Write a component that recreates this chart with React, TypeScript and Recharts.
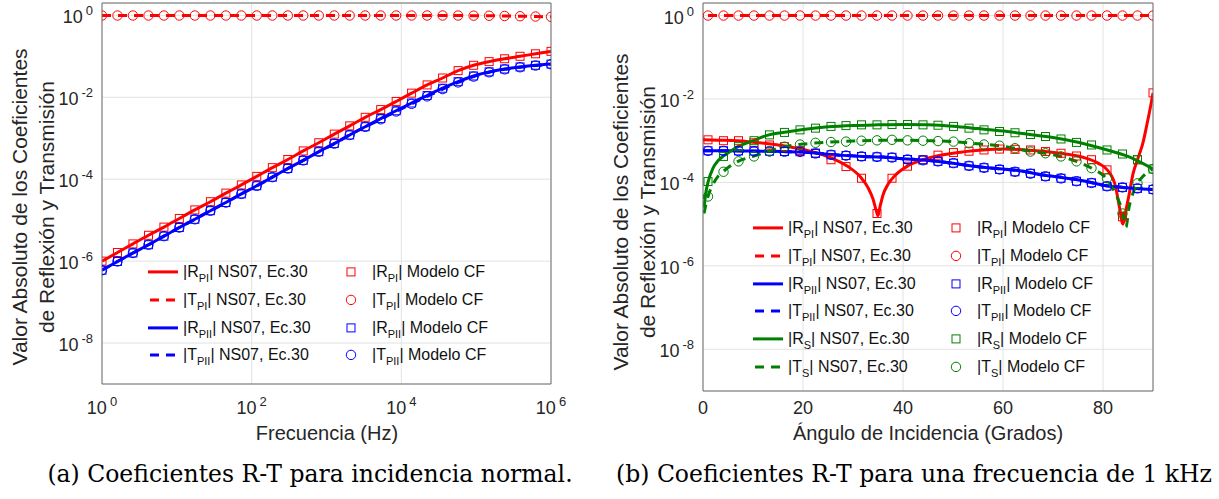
import React from 'react'
import { ComposedChart, Line, XAxis, YAxis, CartesianGrid, Legend } from 'recharts'

const SANS = '"Liberation Sans", Arial, Helvetica, sans-serif'
const SERIF = '"DejaVu Serif", "Liberation Serif", serif'
const TXT = '#262626'
const AXIS = '#6e6e6e'
const GRID = '#e2e2e2'
const RED = '#ff0000'
const BLUE = '#0000ff'
const GREEN = '#008000'

// (a) incidencia normal -- frecuencia (Hz), 30 puntos log
const freqHz = [1, 1.61, 2.59, 4.18, 6.72, 10.8, 17.4, 28.1, 45.2, 72.8, 117, 189, 304, 489, 788, 1270, 2040, 3290, 5300, 8530, 13700, 22100, 35600, 57400, 92400, 149000, 240000, 386000, 621000, 1000000]
const aRPI = [1.0e-6, 1.62e-6, 2.63e-6, 4.27e-6, 6.76e-6, 1.1e-5, 1.78e-5, 2.82e-5, 4.57e-5, 7.24e-5, 1.17e-4, 1.91e-4, 3.02e-4, 4.9e-4, 7.76e-4, 1.26e-3, 2.0e-3, 3.24e-3, 5.0e-3, 7.9e-3, 1.26e-2, 2.0e-2, 2.95e-2, 4.47e-2, 6.03e-2, 7.41e-2, 8.71e-2, 0.1, 0.115, 0.132]
const aTPI = [0.99, 0.99, 0.99, 0.99, 0.99, 0.99, 0.99, 0.99, 0.99, 0.99, 0.99, 0.99, 0.99, 0.99, 0.99, 0.99, 0.99, 0.99, 0.99, 0.99, 0.99, 0.99, 0.99, 0.988, 0.982, 0.975, 0.965, 0.95, 0.935, 0.92]
const aRPII = [6.0e-7, 9.8e-7, 1.58e-6, 2.51e-6, 4.07e-6, 6.6e-6, 1.05e-5, 1.7e-5, 2.69e-5, 4.37e-5, 6.9e-5, 1.12e-4, 1.82e-4, 2.88e-4, 4.68e-4, 7.4e-4, 1.2e-3, 1.91e-3, 3.02e-3, 4.68e-3, 7.24e-3, 1.1e-2, 1.66e-2, 2.4e-2, 3.31e-2, 4.17e-2, 4.9e-2, 5.5e-2, 6.03e-2, 6.46e-2]
const aTPII = [6.0e-7, 9.8e-7, 1.58e-6, 2.51e-6, 4.07e-6, 6.6e-6, 1.05e-5, 1.7e-5, 2.69e-5, 4.37e-5, 6.9e-5, 1.12e-4, 1.82e-4, 2.88e-4, 4.68e-4, 7.4e-4, 1.2e-3, 1.9e-3, 2.9e-3, 4.5e-3, 6.9e-3, 1.05e-2, 1.58e-2, 2.3e-2, 3.2e-2, 4.07e-2, 4.8e-2, 5.4e-2, 5.95e-2, 6.4e-2]

// (b) 1 kHz -- angulo de incidencia (grados)
const angCF = [1, 4.1, 7.1, 10.2, 13.3, 16.3, 19.4, 22.5, 25.6, 28.6, 31.7, 34.8, 37.8, 40.9, 44, 47, 50.1, 53.2, 56.2, 59.3, 62.4, 65.5, 68.5, 71.6, 74.7, 77.7, 80.8, 83.9, 86.9, 90]
const bRPI_CF = [1.05e-3, 1.0e-3, 1.0e-3, 8.9e-4, 7.9e-4, 7.2e-4, 5.8e-4, 5.0e-4, 3.5e-4, 2.4e-4, 1.26e-4, 1.8e-5, 1.26e-4, 2.45e-4, 3.5e-4, 4.5e-4, 5.2e-4, 5.6e-4, 6.0e-4, 6.3e-4, 6.2e-4, 6.0e-4, 5.5e-4, 5.0e-4, 4.3e-4, 3.5e-4, 2.0e-4, 1.5e-5, 3.5e-4, 1.4e-2]
const bTPI_CF = [1, 1, 1, 1, 1, 1, 1, 1, 1, 1, 1, 1, 1, 1, 1, 1, 1, 1, 1, 1, 1, 1, 1, 1, 1, 1, 1, 1, 1, 1]
const bRPII_CF = [5.75e-4, 5.75e-4, 5.7e-4, 5.65e-4, 5.6e-4, 5.5e-4, 5.45e-4, 5.0e-4, 4.6e-4, 4.4e-4, 4.2e-4, 4.1e-4, 4.0e-4, 3.55e-4, 3.45e-4, 3.2e-4, 2.9e-4, 2.5e-4, 2.25e-4, 2.05e-4, 1.8e-4, 1.65e-4, 1.4e-4, 1.26e-4, 1.07e-4, 9.8e-5, 8.1e-5, 7.6e-5, 7.2e-5, 6.8e-5]
const bTPII_CF = [5.7e-4, 5.7e-4, 5.65e-4, 5.6e-4, 5.55e-4, 5.45e-4, 5.4e-4, 4.95e-4, 4.6e-4, 4.4e-4, 4.2e-4, 4.1e-4, 3.95e-4, 3.55e-4, 3.4e-4, 3.2e-4, 2.9e-4, 2.5e-4, 2.25e-4, 2.05e-4, 1.8e-4, 1.62e-4, 1.4e-4, 1.25e-4, 1.07e-4, 9.7e-5, 8.1e-5, 7.6e-5, 7.2e-5, 6.8e-5]
const bRS_CF = [1.05e-4, 4.2e-4, 7.2e-4, 1.0e-3, 1.38e-3, 1.58e-3, 1.82e-3, 2.0e-3, 2.2e-3, 2.3e-3, 2.4e-3, 2.4e-3, 2.45e-3, 2.45e-3, 2.4e-3, 2.35e-3, 2.2e-3, 2.0e-3, 1.82e-3, 1.66e-3, 1.55e-3, 1.41e-3, 1.26e-3, 1.1e-3, 9.1e-4, 7.9e-4, 6.0e-4, 4.8e-4, 3.5e-4, 2.1e-4]
const bTS_CF = [4.6e-5, 1.8e-4, 3.2e-4, 4.2e-4, 5.6e-4, 7.2e-4, 8.1e-4, 8.9e-4, 9.3e-4, 9.5e-4, 1.0e-3, 1.02e-3, 1.05e-3, 1.02e-3, 1.0e-3, 9.8e-4, 9.5e-4, 8.7e-4, 8.1e-4, 7.6e-4, 6.6e-4, 5.5e-4, 5.0e-4, 4.2e-4, 3.2e-4, 2.2e-4, 1.26e-4, 1.8e-5, 9.5e-5, 2.1e-4]

// NS07 curves (denser where they dip)
const angP_NS = [0, 4, 8, 12, 16, 20, 24, 28, 32, 36, 40, 44, 48, 52, 56, 60, 64, 68, 72, 76, 80, 84, 88, 90]
const bRPII_NS = [5.75e-4, 5.75e-4, 5.7e-4, 5.6e-4, 5.5e-4, 5.35e-4, 4.85e-4, 4.45e-4, 4.2e-4, 4.05e-4, 3.7e-4, 3.45e-4, 3.1e-4, 2.65e-4, 2.3e-4, 2.1e-4, 1.85e-4, 1.5e-4, 1.3e-4, 1.1e-4, 8.6e-5, 7.6e-5, 7.0e-5, 6.8e-5]
const angRPI_NS = [0, 3, 7, 10, 14, 18, 22, 26, 29, 31.5, 33, 34, 34.7, 35, 35.4, 36, 37, 38.5, 41, 44, 48, 52, 56, 60, 64, 68, 72, 76, 79, 81, 82.5, 83.3, 84, 84.6, 85.2, 86, 87, 88, 88.8, 89.5, 90]
const bRPI_NS = [1.05e-3, 1.03e-3, 1.0e-3, 9.2e-4, 8.2e-4, 6.9e-4, 5.4e-4, 3.7e-4, 2.4e-4, 1.35e-4, 7.5e-5, 4.0e-5, 2.0e-5, 1.6e-5, 2.6e-5, 5.0e-5, 9.0e-5, 1.5e-4, 2.5e-4, 3.5e-4, 4.6e-4, 5.4e-4, 6.0e-4, 6.3e-4, 6.1e-4, 5.6e-4, 4.9e-4, 4.0e-4, 2.9e-4, 1.9e-4, 8.0e-5, 2.5e-5, 1.0e-5, 2.2e-5, 5.0e-5, 1.6e-4, 3.8e-4, 9.0e-4, 2.5e-3, 6.5e-3, 1.4e-2]
const angRS_NS = [0.2, 0.6, 1, 2, 3, 4, 5.5, 7, 10, 13, 16, 20, 25, 30, 35, 40, 45, 50, 55, 60, 65, 70, 75, 80, 85, 90]
const bRS_NS = [2.5e-5, 6.0e-5, 1.0e-4, 2.2e-4, 3.3e-4, 4.2e-4, 5.6e-4, 7.2e-4, 1.0e-3, 1.36e-3, 1.58e-3, 1.86e-3, 2.15e-3, 2.32e-3, 2.4e-3, 2.45e-3, 2.4e-3, 2.22e-3, 1.95e-3, 1.7e-3, 1.43e-3, 1.2e-3, 9.2e-4, 6.4e-4, 4.2e-4, 2.1e-4]
const angTS_NS = [0.2, 0.6, 1, 2, 3, 4, 5.5, 7, 10, 13, 16, 20, 25, 30, 35, 40, 45, 50, 55, 60, 65, 70, 75, 78, 80.5, 82, 83.2, 84, 84.6, 85.2, 86, 87, 88, 89, 90]
const bTS_NS = [1.8e-5, 3.0e-5, 4.6e-5, 9.0e-5, 1.4e-4, 1.8e-4, 2.5e-4, 3.2e-4, 4.2e-4, 5.5e-4, 7.1e-4, 8.3e-4, 9.2e-4, 9.8e-4, 1.02e-3, 1.03e-3, 1.0e-3, 9.5e-4, 8.4e-4, 7.4e-4, 5.7e-4, 4.6e-4, 3.1e-4, 2.1e-4, 1.3e-4, 7.0e-5, 3.5e-5, 1.8e-5, 8.5e-6, 2.5e-5, 5.5e-5, 1.0e-4, 1.4e-4, 1.8e-4, 2.1e-4]

const yTicks = [1e-8, 1e-6, 1e-4, 1e-2, 1]
const fTicks = [1, 100, 1e4, 1e6]
const angTicks = [0, 20, 40, 60, 80]

const pts = (xs: number[], ys: number[]) => xs.map((x, i) => ({ x, y: ys[i] }))

const squareDot = (color: string) => (p: any) => (
  <rect key={p.index} x={p.cx - 4} y={p.cy - 4} width={8} height={8} fill="none" stroke={color} strokeWidth={1} />
)
const circleDot = (color: string) => (p: any) => (
  <circle key={p.index} cx={p.cx} cy={p.cy} r={4.7} fill="none" stroke={color} strokeWidth={1} />
)

function PowTick({ x, y, payload, dy, anchor }: any) {
  const e = Math.round(Math.log10(payload.value))
  return (
    <text x={x} y={y + dy} textAnchor={anchor} fontFamily={SANS} fontSize={18} fill={TXT}>
      10
      <tspan dx={3} dy={-8} fontSize={13}>{e}</tspan>
    </text>
  )
}

function PlainTick({ x, y, payload }: any) {
  return (
    <text x={x} y={y + 23} textAnchor="middle" fontFamily={SANS} fontSize={18} fill={TXT}>
      {payload.value}
    </text>
  )
}

const ROW = 27.8

type Entry = { q: string; sub: string; color: string; dash: boolean; marker: 'sq' | 'ci' }

function LegendBox({ entries }: { entries: Entry[] }) {
  return (
    <div style={{ position: 'relative', width: 400, height: entries.length * ROW, fontFamily: SANS, fontSize: 16, color: '#111', textAlign: 'left' }}>
      {entries.map((e, i) => (
        <div key={i} style={{ position: 'absolute', left: 0, top: i * ROW, width: 400, height: ROW }}>
          <svg width={30} height={ROW} style={{ position: 'absolute', left: 0, top: 0 }}>
            <line x1={e.dash ? 2 : 0} x2={e.dash ? 28 : 30} y1={ROW / 2} y2={ROW / 2} stroke={e.color} strokeWidth={3} strokeDasharray={e.dash ? '9 7' : undefined} />
          </svg>
          <span style={{ position: 'absolute', left: 35, top: 0, lineHeight: ROW + 'px', whiteSpace: 'nowrap' }}>
            |{e.q}<span style={{ fontSize: 11, position: 'relative', top: 5 }}>{e.sub}</span>| NS07, Ec.30
          </span>
          <svg width={14} height={ROW} style={{ position: 'absolute', left: 196, top: 0 }}>
            {e.marker === 'sq'
              ? <rect x={3} y={ROW / 2 - 4} width={8} height={8} fill="none" stroke={e.color} strokeWidth={1} />
              : <circle cx={7} cy={ROW / 2} r={4.7} fill="none" stroke={e.color} strokeWidth={1} />}
          </svg>
          <span style={{ position: 'absolute', left: 224, top: 0, lineHeight: ROW + 'px', whiteSpace: 'nowrap' }}>
            |{e.q}<span style={{ fontSize: 11, position: 'relative', top: 5 }}>{e.sub}</span>| Modelo CF
          </span>
        </div>
      ))}
    </div>
  )
}

const entriesP: Entry[] = [
  { q: 'R', sub: 'PI', color: RED, dash: false, marker: 'sq' },
  { q: 'T', sub: 'PI', color: RED, dash: true, marker: 'ci' },
  { q: 'R', sub: 'PII', color: BLUE, dash: false, marker: 'sq' },
  { q: 'T', sub: 'PII', color: BLUE, dash: true, marker: 'ci' },
]
const entriesS: Entry[] = [
  ...entriesP,
  { q: 'R', sub: 'S', color: GREEN, dash: false, marker: 'sq' },
  { q: 'T', sub: 'S', color: GREEN, dash: true, marker: 'ci' },
]

// box and inward ticks on all four sides, like the MATLAB axes
function frameAxes(xProps: any, yProps: any) {
  return [
    <XAxis key="xt" xAxisId="t" orientation="top" mirror {...xProps} tick={false} tickSize={5} tickLine={{ stroke: AXIS }} axisLine={{ stroke: AXIS }} height={1} />,
    <XAxis key="xb" xAxisId="bm" orientation="bottom" mirror {...xProps} tick={false} tickSize={5} tickLine={{ stroke: AXIS }} axisLine={false} height={1} />,
    <YAxis key="yr" yAxisId="r" orientation="right" mirror {...yProps} tick={false} tickSize={5} tickLine={{ stroke: AXIS }} axisLine={{ stroke: AXIS }} width={1} />,
    <YAxis key="yl" yAxisId="lm" orientation="left" mirror {...yProps} tick={false} tickSize={5} tickLine={{ stroke: AXIS }} axisLine={false} width={1} />,
  ]
}

const yProps = { type: 'number' as const, scale: 'log' as const, domain: [1e-9, 2], ticks: yTicks, allowDataOverflow: true }

function line(data: any[], color: string, dash: boolean) {
  return (
    <Line data={data} dataKey="y" type="monotone" stroke={color} strokeWidth={3} strokeDasharray={dash ? '9 7' : undefined}
      dot={false} activeDot={false} legendType="none" isAnimationActive={false} />
  )
}
function marks(data: any[], color: string, kind: 'sq' | 'ci') {
  return (
    <Line data={data} dataKey="y" stroke="none" dot={kind === 'sq' ? squareDot(color) : circleDot(color)}
      activeDot={false} legendType="none" isAnimationActive={false} />
  )
}

function ChartA() {
  const xProps = { dataKey: 'x', type: 'number' as const, scale: 'log' as const, domain: [1, 1e6], ticks: fTicks, allowDataOverflow: true }
  return (
    <ComposedChart width={610} height={499} margin={{ top: 3, right: 59, bottom: 75, left: 42 }}>
      <CartesianGrid stroke={GRID} />
      <XAxis {...xProps} height={40} axisLine={{ stroke: AXIS }} tickLine={false} tickSize={0} tickMargin={0}
        tick={(p: any) => <PowTick {...p} dy={30} anchor="middle" />} />
      <YAxis {...yProps} width={60} axisLine={{ stroke: AXIS }} tickLine={false} tickSize={0} tickMargin={0}
        tick={(p: any) => <PowTick {...p} x={p.x - 9} dy={8} anchor="end" />} />
      {frameAxes(xProps, yProps)}
      {line(pts(freqHz, aRPI), RED, false)}
      {line(pts(freqHz, aTPI), RED, true)}
      {line(pts(freqHz, aRPII), BLUE, false)}
      {line(pts(freqHz, aTPII), BLUE, true)}
      {marks(pts(freqHz, aRPI), RED, 'sq')}
      {marks(pts(freqHz, aTPI), RED, 'ci')}
      {marks(pts(freqHz, aRPII), BLUE, 'sq')}
      {marks(pts(freqHz, aTPII), BLUE, 'ci')}
      <Legend layout="horizontal" verticalAlign="middle" align="center" wrapperStyle={{ left: 148, top: 258, width: 400 }}
        content={() => <LegendBox entries={entriesP} />} />
    </ComposedChart>
  )
}

function ChartB() {
  const xProps = { dataKey: 'x', type: 'number' as const, domain: [0, 90], ticks: angTicks, allowDataOverflow: true }
  return (
    <ComposedChart width={609} height={499} margin={{ top: 3, right: 66, bottom: 68, left: 33 }}>
      <CartesianGrid stroke={GRID} />
      <XAxis {...xProps} height={40} axisLine={{ stroke: AXIS }} tickLine={false} tickSize={0} tickMargin={0}
        tick={(p: any) => <PlainTick {...p} />} />
      <YAxis {...yProps} width={60} axisLine={{ stroke: AXIS }} tickLine={false} tickSize={0} tickMargin={0}
        tick={(p: any) => <PowTick {...p} x={p.x - 9} dy={8} anchor="end" />} />
      {frameAxes(xProps, yProps)}
      {line(pts(angRPI_NS, bRPI_NS), RED, false)}
      {line(pts(angCF, bTPI_CF), RED, true)}
      {line(pts(angP_NS, bRPII_NS), BLUE, false)}
      {line(pts(angP_NS, bRPII_NS), BLUE, true)}
      {line(pts(angRS_NS, bRS_NS), GREEN, false)}
      {line(pts(angTS_NS, bTS_NS), GREEN, true)}
      {marks(pts(angCF, bRPI_CF), RED, 'sq')}
      {marks(pts(angCF, bTPI_CF), RED, 'ci')}
      {marks(pts(angCF, bRPII_CF), BLUE, 'sq')}
      {marks(pts(angCF, bTPII_CF), BLUE, 'ci')}
      {marks(pts(angCF, bRS_CF), GREEN, 'sq')}
      {marks(pts(angCF, bTS_CF), GREEN, 'ci')}
      <Legend layout="horizontal" verticalAlign="middle" align="center" wrapperStyle={{ left: 143, top: 214, width: 400 }}
        content={() => <LegendBox entries={entriesS} />} />
    </ComposedChart>
  )
}

const abs = (s: React.CSSProperties): React.CSSProperties => ({ position: 'absolute', whiteSpace: 'nowrap', ...s })

function YTitle({ cx, cy }: { cx: number; cy: number }) {
  return (
    <div style={abs({ left: cx, top: cy, transform: 'translate(-50%, -50%) rotate(-90deg)', fontFamily: SANS, fontSize: 21,
      lineHeight: '27px', textAlign: 'center', color: TXT })}>
      Valor Absoluto de los Coeficientes<br />de Reflexión y Transmisión
    </div>
  )
}

export default function App() {
  return (
    <div style={{ position: 'absolute', left: 0, top: 0, width: 1219, height: 499, background: '#fff', overflow: 'hidden' }}>
      <div style={abs({ left: 0, top: 0 })}><ChartA /></div>
      <div style={abs({ left: 610, top: 0 })}><ChartB /></div>
      <YTitle cx={33} cy={207} />
      <YTitle cx={634} cy={212} />
      <div style={abs({ left: 327, top: 433, transform: 'translate(-50%, -50%)', fontFamily: SANS, fontSize: 20, color: TXT })}>Frecuencia (Hz)</div>
      <div style={abs({ left: 928, top: 433, transform: 'translate(-50%, -50%)', fontFamily: SANS, fontSize: 20, color: TXT })}>Ángulo de Incidencia (Grados)</div>
      <div style={abs({ left: 310, top: 474, transform: 'translate(-50%, -50%)', fontFamily: SERIF, fontSize: 23.5, color: '#000' })}>(a) Coeficientes R-T para incidencia normal.</div>
      <div style={abs({ left: 914, top: 474, transform: 'translate(-50%, -50%)', fontFamily: SERIF, fontSize: 23.5, color: '#000' })}>(b) Coeficientes R-T para una frecuencia de 1 kHz</div>
    </div>
  )
}
